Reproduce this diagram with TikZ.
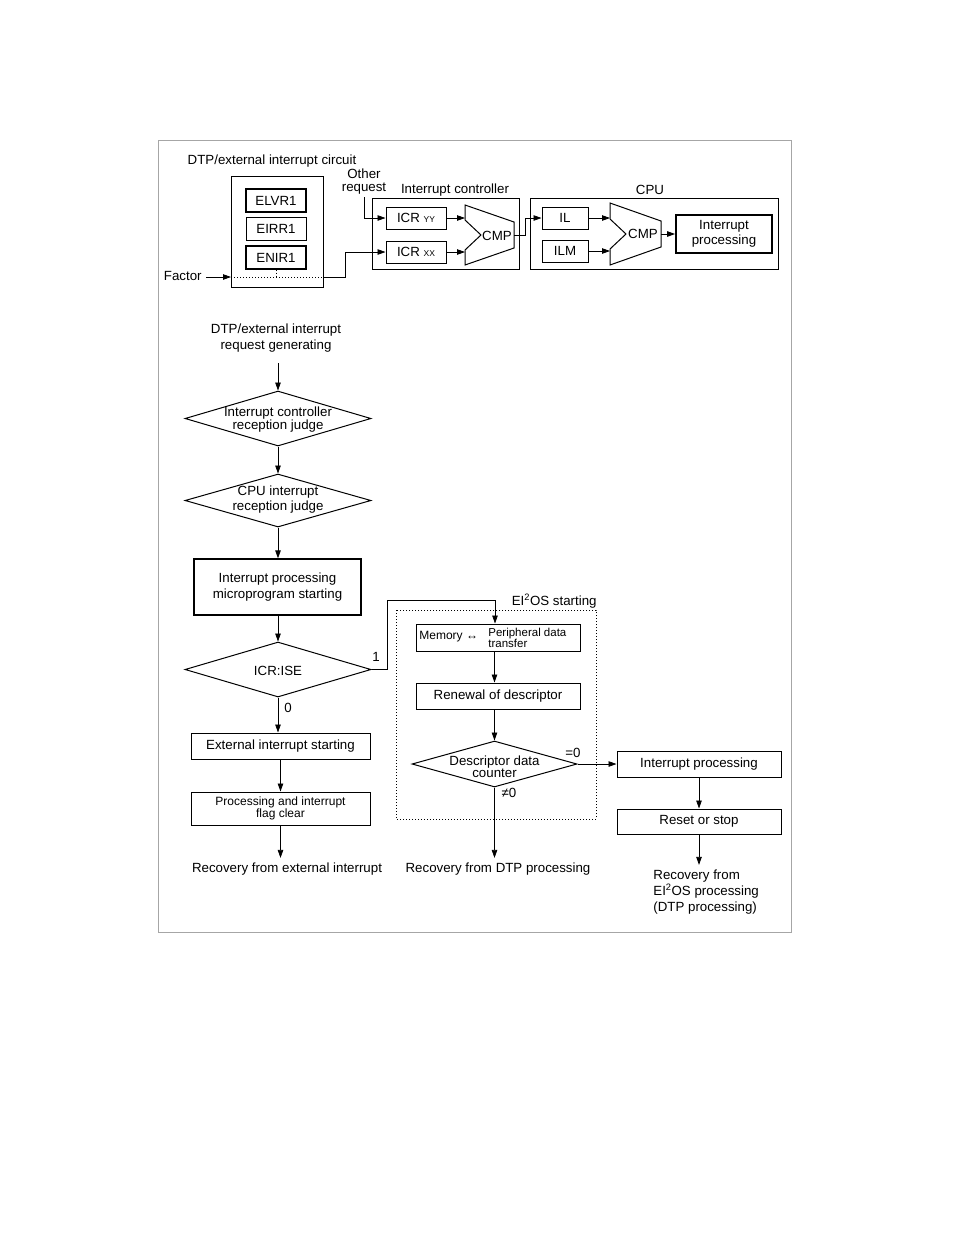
\documentclass[tikz,border=0pt]{standalone}
\usepackage{fontspec}
\setmainfont{Liberation Sans}
\usetikzlibrary{arrows.meta,positioning,shapes.geometric}
\newcommand{\normtxt}{\fontsize{13.3}{16}\selectfont}
\newcommand{\smalltxt}{\fontsize{12}{12}\selectfont}
\newcommand{\subtxt}{\fontsize{8.5}{9}\selectfont}
\newcommand{\eios}{EI\textsuperscript{2}OS}

\begin{document}
\begin{tikzpicture}[x=1pt, y=-1pt, line width=0.8pt,
    lbl/.style={font=\normtxt, inner sep=0pt, align=center},
    box/.style={draw, line width=1pt, inner sep=0pt, font=\normtxt, align=center},
    boldbox/.style={box, line width=1.8pt},
    decision/.style={diamond, draw, line width=1pt, inner sep=0pt},
    arr/.style={-{Triangle[length=8pt,width=5.5pt]}}]
    \useasboundingbox (0,0) rectangle (954,1235);
    % outer frame
    \draw[black!35, line width=1pt] (158,140) rectangle (791,932);

    % DTP/external interrupt circuit
    \node[lbl] (circ-lbl) at (272,161.5) {DTP/external interrupt circuit};
    \node[box, minimum width=92, minimum height=111] (circuit) at (277,231.5) {};
    \node[boldbox, line width=1.3pt, minimum width=60, minimum height=23] (elvr) at (276,200.5) {ELVR1};
    \node[box, minimum width=60, minimum height=23] (eirr) at (276,228.5) {EIRR1};
    \node[boldbox, line width=1.3pt, minimum width=60, minimum height=23] (enir) at (276,257.5) {ENIR1};
    \node[lbl, anchor=east] (factor) at (202,276) {Factor};
    \coordinate (fac-in) at (231,277);
    \coordinate (fac-out) at (323,277);
    \coordinate (jog-a) at (345,277);
    \draw[arr, shorten <=4pt] (factor.east |- fac-in) -- (fac-in);
    \draw[dotted, line width=1pt] (fac-in) -- (fac-out);
    \draw[dotted, line width=1pt] (enir.south) -- (enir.south |- fac-in);

    % Interrupt controller
    \node[lbl, font=\fontsize{13.3}{13}\selectfont] (other) at (364,182) {Other\\request};
    \node[lbl] (ictrl-lbl) at (455,190.5) {Interrupt controller};
    \node[box, minimum width=147, minimum height=71] (ictrl) at (445.5,233.5) {};
    \node[box, minimum width=60, minimum height=22] (icryy) at (416,218) {ICR {\subtxt YY}};
    \node[box, minimum width=60, minimum height=22] (icrxx) at (416,252) {ICR {\subtxt XX}};
    \draw[line width=1pt] (465,205) -- (514,222) -- (514,248) -- (465,265) -- (465,250)
        -- (481,235) -- (465,220) -- cycle;
    \node[lbl] (cmp-a) at (497,236) {CMP};
    \coordinate (cmp-a-in1) at (465,218);
    \coordinate (cmp-a-in2) at (465,252);
    \coordinate (cmp-a-out) at (514,235);
    \coordinate (jog-b) at (525,235);
    \draw[arr] ([yshift=-2pt]other.south) |- (icryy.west);
    \draw[arr] (fac-out) -- (jog-a) |- (icrxx.west);
    \draw[arr] (icryy.east) -- (cmp-a-in1);
    \draw[arr] (icrxx.east) -- (cmp-a-in2);

    % CPU
    \node[lbl] (cpu-lbl) at (650,189.5) {CPU};
    \node[box, minimum width=248, minimum height=71] (cpu) at (654,233.5) {};
    \node[box, minimum width=46, minimum height=22] (il) at (565,218) {IL};
    \node[box, minimum width=46, minimum height=22] (ilm) at (565,251) {ILM};
    \draw[line width=1pt] (610,203) -- (661,221) -- (661,247) -- (610,265) -- (610,249)
        -- (626,234) -- (610,219) -- cycle;
    \node[lbl] (cmp-b) at (643,234) {CMP};
    \coordinate (cmp-b-in1) at (610,218);
    \coordinate (cmp-b-in2) at (610,251);
    \coordinate (cmp-b-out) at (661,234);
    \node[boldbox, font=\fontsize{13.3}{15}\selectfont, minimum width=96, minimum height=38] (intproc) at (724,234) {Interrupt\\processing};
    \draw[arr] (cmp-a-out) -- (jog-b) |- (il.west);
    \draw[arr] (il.east) -- (cmp-b-in1);
    \draw[arr] (ilm.east) -- (cmp-b-in2);
    \draw[arr] (cmp-b-out) -- (intproc.west);

    % flow of the external interrupt
    \node[lbl] (reqgen) at (276,338.5) {DTP/external interrupt\\request generating};
    \node[decision, minimum width=186, minimum height=55] (judge1) at (278,418.5) {};
    \node[lbl, font=\fontsize{13.3}{13}\selectfont] (judge1-txt) at (278,419.5) {Interrupt controller\\reception judge};
    \node[decision, minimum width=186, minimum height=53] (judge2) at (278,500.5) {};
    \node[lbl, font=\fontsize{13.3}{15}\selectfont] (judge2-txt) at (278,499.5) {CPU interrupt\\reception judge};
    \node[box, minimum width=167, minimum height=56, line width=1.3pt] (micro) at (277.5,587) {Interrupt processing\\microprogram starting};
    \node[decision, minimum width=186, minimum height=55] (ise) at (278,669.5) {};
    \node[lbl] (ise-txt) at (278,670.5) {ICR:ISE};
    \node[box, minimum width=179, minimum height=26] (extstart) at (280.5,746) {External interrupt starting};
    \node[box, font=\smalltxt, minimum width=179, minimum height=33] (flagclr) at (280.5,808.5) {Processing and interrupt\\flag clear};
    \node[lbl] (recext) at (287,869.5) {Recovery from external interrupt};
    \draw[arr, shorten <=10pt] (reqgen.south -| judge1.north) -- (judge1.north);
    \draw[arr] (judge1.south) -- (judge2.north);
    \draw[arr] (judge2.south) -- (judge2.south |- micro.north);
    \draw[arr] (micro.south -| ise.north) -- (ise.north);
    \draw[arr] (ise.south) -- (ise.south |- extstart.north);
    \draw[arr] (extstart.south) -- (flagclr.north);
    \draw[arr] (flagclr.south) -- ([yshift=5pt]flagclr.south |- recext.north);
    \node[lbl] (one) at (376,657) {1};
    \node[lbl] (zero) at (288,708) {0};

    % EI2OS starting
    \draw[dotted, line width=1pt] (396,610) rectangle (596,819);
    \node[lbl, anchor=east] (ei-lbl) at (597,601) {\eios{} starting};
    \node[box, minimum width=164, minimum height=27] (xfer) at (498,637.5) {};
    \node[lbl, font=\smalltxt, anchor=west] (xfer-mem) at (419,637) {Memory ↔};
    \node[lbl, font=\fontsize{11.5}{11}\selectfont, align=left, anchor=west] (xfer-per) at (488,638) {Peripheral data\\transfer};
    \node[box, minimum width=164, minimum height=26] (renew) at (498,696) {Renewal of descriptor};
    \node[decision, minimum width=165, minimum height=46] (counter) at (494.5,764) {};
    \node[lbl, font=\fontsize{13.3}{12}\selectfont] (counter-txt) at (494.5,767) {Descriptor data\\counter};
    \node[lbl] (recdtp) at (498,869.5) {Recovery from DTP processing};
    \coordinate (jog-c) at (387,600);
    \draw[arr] (ise.east) -| (jog-c) -| ([xshift=-3pt]xfer.north);
    \draw[arr] (xfer.south -| counter.north) -- (renew.north -| counter.north);
    \draw[arr] (renew.south -| counter.north) -- (counter.north);
    \draw[arr] (counter.south) -- ([yshift=5pt]counter.south |- recdtp.north);
    \node[lbl] (eq-zero) at (573,753) {=0};
    \node[lbl] (ne-zero) at (509,793) {≠0};

    % recovery of EI2OS
    \node[box, minimum width=164, minimum height=26] (intproc2) at (699,764) {Interrupt processing};
    \node[box, minimum width=164, minimum height=25] (reset) at (699,821.5) {Reset or stop};
    \node[lbl, align=left, anchor=west] (recei) at (653,892.5) {Recovery from\\\eios{} processing\\(DTP processing)};
    \draw[arr] (counter.east) -- (intproc2.west);
    \draw[arr] (intproc2.south) -- (reset.north);
    \draw[arr] (reset.south) -- ([yshift=5pt]reset.south |- recei.north);
\end{tikzpicture}
\end{document}
